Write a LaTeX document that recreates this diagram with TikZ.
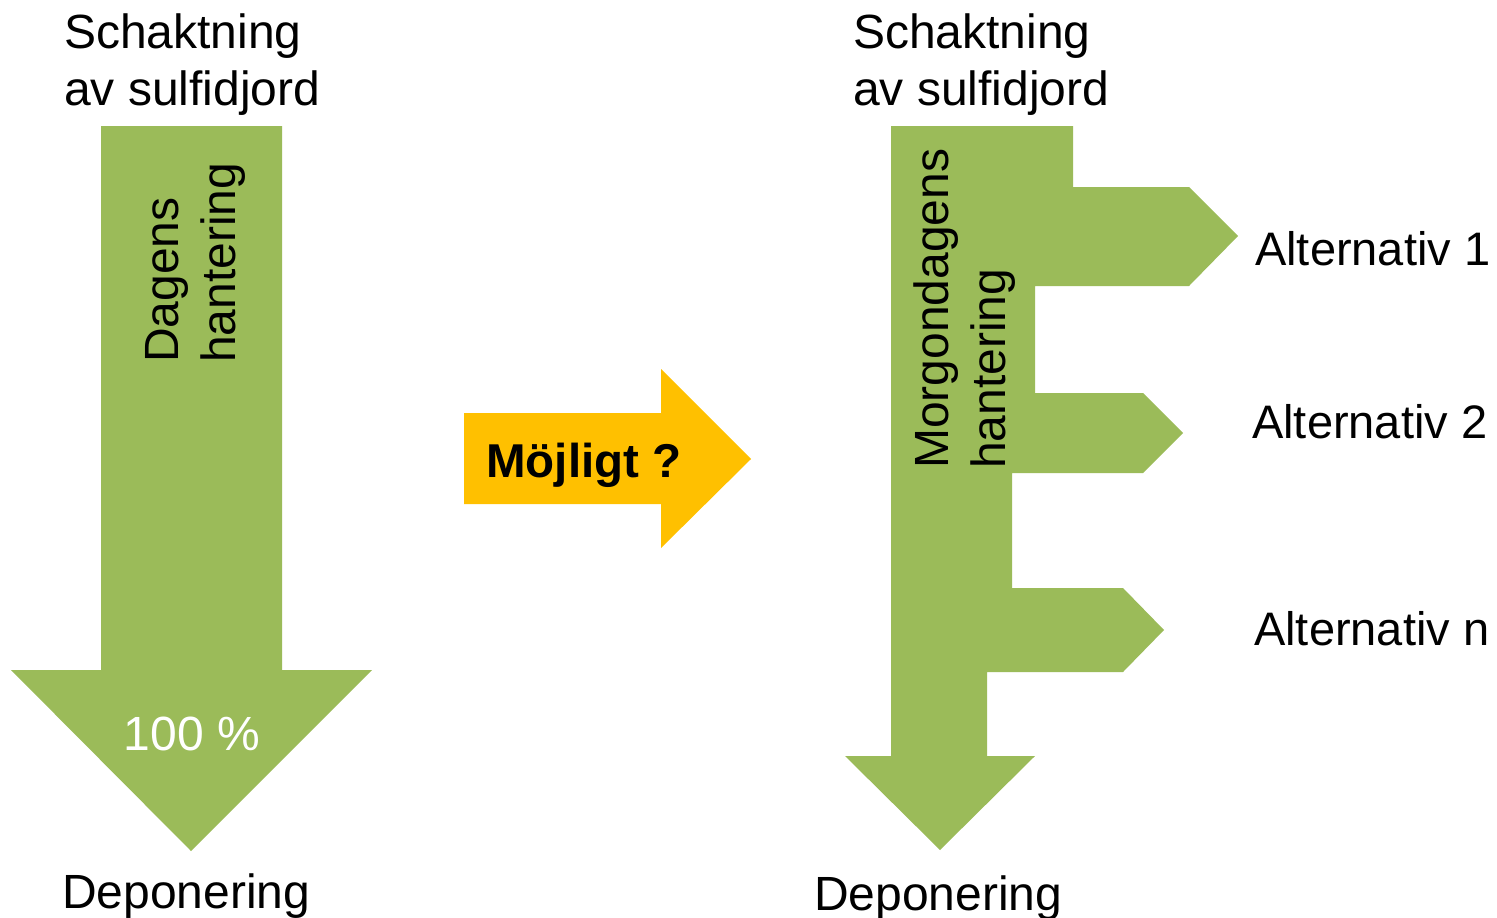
\documentclass[tikz,border=0pt]{standalone}
\usepackage{fontspec}
\setmainfont{Liberation Sans}
\definecolor{leaf}{HTML}{9BBB59}
\definecolor{amber}{HTML}{FFC000}
\begin{document}
\begin{tikzpicture}[x=1pt,y=-1pt,
  lbl/.style={inner sep=0pt, font=\fontsize{48}{57}\selectfont, align=left, anchor=base west},
  altlbl/.style={lbl, font=\fontsize{47}{57}\selectfont},
  vlbl/.style={lbl, rotate=90},
  greenshape/.style={fill=leaf, draw=none},
  yellowshape/.style={fill=amber, draw=none}]
\useasboundingbox (0,0) rectangle (1497,918);
% left arrow
\fill[greenshape] (101,126) -- (282,126) -- (282,670) -- (372,670) -- (191,851) -- (11,670) -- (101,670) -- cycle;
% right branching arrow
\fill[greenshape] (891,126) -- (1073,126) -- (1073,187) -- (1189,187) -- (1238,236) -- (1189,286)
  -- (1035,286) -- (1035,393) -- (1143,393) -- (1183,433) -- (1143,473) -- (1012,473)
  -- (1012,588) -- (1123,588) -- (1164,630) -- (1123,672) -- (987,672) -- (987,756)
  -- (1035,756) -- (940,850) -- (845,756) -- (891,756) -- cycle;
% yellow arrow
\fill[yellowshape] (464,413) -- (661,413) -- (661,369) -- (751,459) -- (661,548) -- (661,504) -- (464,504) -- cycle;
% labels (base anchor of a two-line node = baseline of its last line)
\node[lbl] (src1) at (64,105) {Schaktning\\av sulfidjord};
\node[lbl] (src2) at (853,105) {Schaktning\\av sulfidjord};
\node[lbl] (dep1) at (62,908) {Deponering};
\node[lbl] (dep2) at (814,910) {Deponering};
\node[vlbl] (dag) at (235,363) {Dagens\\hantering};
\node[vlbl] (morg) at (1005,469) {Morgondagens\\hantering};
\node[lbl, anchor=base, text=white] (pct) at (192,750) {100 \%};
\node[lbl, font=\fontsize{47.5}{57}\selectfont\bfseries] (moj) at (486,477) {Möjligt ?};
\node[altlbl] (alt1) at (1255,265) {Alternativ 1};
\node[altlbl] (alt2) at (1252,438) {Alternativ 2};
\node[altlbl] (altn) at (1254,645) {Alternativ n};
\end{tikzpicture}
\end{document}
